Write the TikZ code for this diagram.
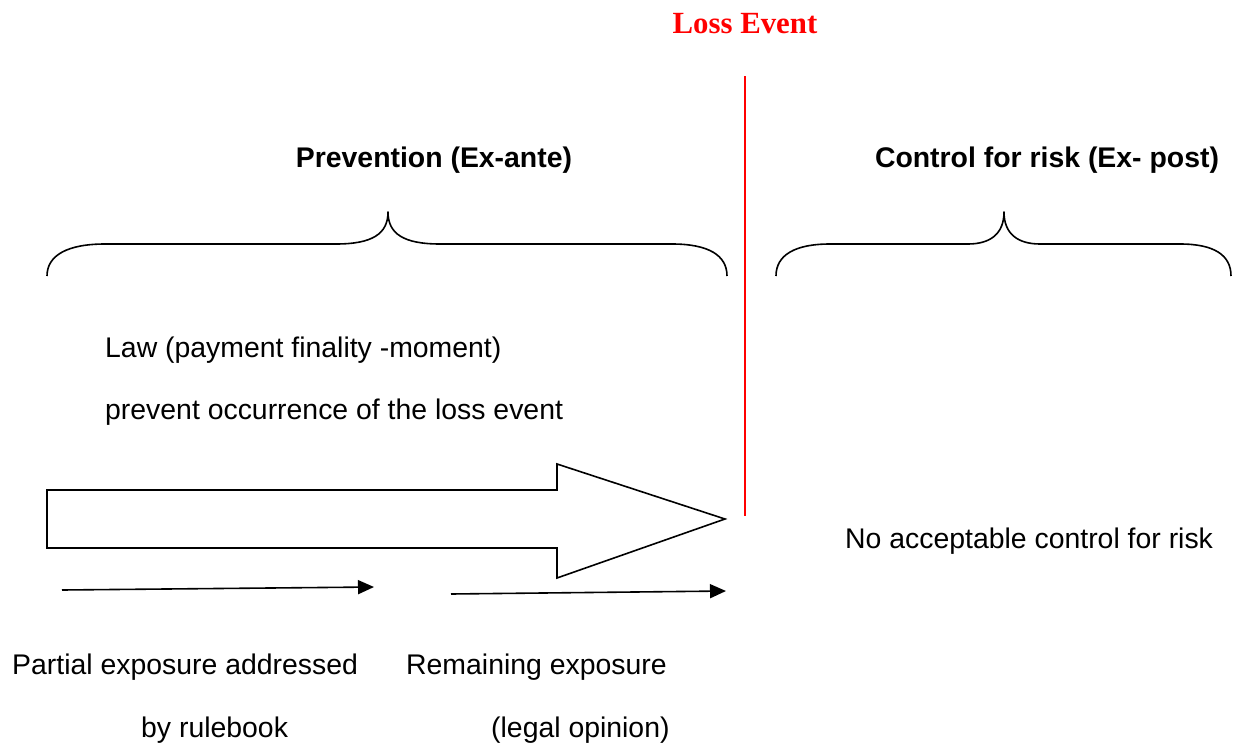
\documentclass[tikz,border=0pt]{standalone}
\usepackage{fontspec}
\setmainfont{Liberation Sans}
\newfontfamily\timesfont{Liberation Serif}
\usetikzlibrary{arrows.meta}
\definecolor{lossred}{RGB}{255,0,0}
\begin{document}
\begin{tikzpicture}[x=1pt,y=-1pt,
  txt/.style={inner sep=0pt,anchor=base west,font=\fontsize{28.4}{34}\selectfont},
  head/.style={inner sep=0pt,anchor=base,font=\fontsize{28.4}{34}\selectfont\bfseries},
  brace/.style={line width=1.6pt,line join=round},
  arr/.style={line width=1.6pt,-{Triangle[length=16pt,width=14pt]}},
  bigarrow/.style={line width=1.6pt,line join=miter}]
\useasboundingbox (0,0) rectangle (1235,747);
% title
\node[inner sep=0pt,anchor=base,text=lossred,font=\fontsize{30.8}{36}\selectfont\timesfont\bfseries] (loss) at (745,33) {Loss Event};
\coordinate (ltop) at (745,76);
\coordinate (lbot) at (745,516);
\draw[lossred,line width=1.8pt] (ltop) -- (lbot);
% headings
\node[head] (prev) at (434,167) {Prevention (Ex-ante)};
\node[head] (ctrl) at (1047,167) {Control for risk (Ex- post)};
% braces
\draw[brace] (47,276) .. controls (47,255) and (68,244) .. (105,244) -- (336,244)
  .. controls (372,244) and (388,234) .. (388,212)
  .. controls (388,234) and (404,244) .. (440,244) -- (672,244)
  .. controls (708,244) and (727,255) .. (727,276);
\draw[brace] (776,276) .. controls (776,255) and (795,244) .. (830,244) -- (968,244)
  .. controls (990,244) and (1004,234) .. (1004,212)
  .. controls (1004,234) and (1018,244) .. (1040,244) -- (1180,244)
  .. controls (1214,244) and (1231,255) .. (1231,276);
% texts
\node[txt] (law) at (105,357) {Law (payment finality -moment)};
\node[txt] (prevent) at (105,419) {prevent occurrence of the loss event};
\node[txt] (noacc) at (845,548) {No acceptable control for risk};
\node[txt] (partial) at (12,674) {Partial exposure addressed};
\node[txt] (rulebook) at (141,737) {by rulebook};
\node[txt] (remain) at (406,674) {Remaining exposure};
\node[txt] (legal) at (491,737) {(legal opinion)};
% big arrow
\coordinate (a1) at (47,490);
\coordinate (a2) at (557,490);
\coordinate (a3) at (557,464);
\coordinate (tip) at (725,519);
\coordinate (a5) at (557,578);
\coordinate (a6) at (557,548);
\coordinate (a7) at (47,548);
\draw[bigarrow] (a1) -- (a2) -- (a3) -- (tip) -- (a5) -- (a6) -- (a7) -- cycle;
% small arrows
\coordinate (s1) at (62,590);
\coordinate (e1) at (374,587);
\coordinate (s2) at (451,594);
\coordinate (e2) at (726,591);
\draw[arr] (s1) -- (e1);
\draw[arr] (s2) -- (e2);
\end{tikzpicture}
\end{document}
